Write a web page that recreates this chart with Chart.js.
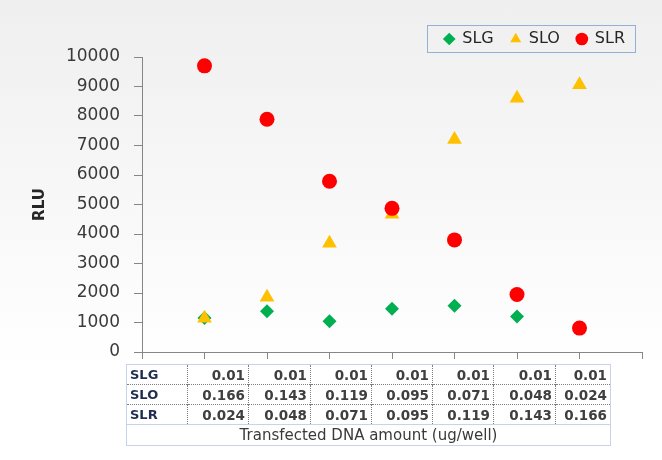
<!DOCTYPE html>
<html>
<head>
<meta charset="utf-8">
<script src="https://cdn.jsdelivr.net/npm/chart.js@4.4.1/dist/chart.umd.min.js"></script>
<style>
	body { margin: 0; }
	#wrap { position: relative; width: 662px; height: 460px; background: linear-gradient(to bottom, #efefef 0%, #f8f8f8 45%, #ffffff 80%, #ffffff 100%); }
	#tbl { position: absolute; left: 126px; top: 364px; border-collapse: collapse; font-family: 'DejaVu Sans'; border: 1px solid #c6d4e9; }
	#tbl td { height: 19px; padding: 0 3px; border-left: 1px dotted #7f7f7f; border-top: 1px dotted #7f7f7f; color: #3f3f3f; font-weight: bold; font-size: 13.5px; text-align: right; white-space: nowrap; }
	#tbl td.lab { text-align: left; color: #1f2d50; font-size: 13px; border-left: none; }
	#tbl tr:first-child td { border-top: none; }
	#tbl td.ttl { text-align: center; font-weight: normal; font-size: 15px; color: #3a3a3a; height: 20px; border-left: none; border-top: 1px solid #c6d4e9; }
</style>
</head>
<body>
<div id="wrap">
	<canvas id="chart" width="662" height="460"></canvas>
	<table id="tbl"></table>
</div>
<script>
const seriesNames = ['SLG', 'SLO', 'SLR'];
const xPos = [1, 2, 3, 4, 5, 6, 7];
const slgValues = [1150, 1380, 1045, 1470, 1570, 1200, 820];
const sloValues = [1140, 1860, 3690, 4670, 7200, 8600, 9060];
const slrValues = [9700, 7890, 5790, 4870, 3800, 1950, 810];
const slgAmount = ['0.01', '0.01', '0.01', '0.01', '0.01', '0.01', '0.01'];
const sloAmount = ['0.166', '0.143', '0.119', '0.095', '0.071', '0.048', '0.024'];
const slrAmount = ['0.024', '0.048', '0.071', '0.095', '0.119', '0.143', '0.166'];
const xTitle = 'Transfected DNA amount (ug/well)';
const yTitle = 'RLU';

function toPoints(vals) {
	return vals.map(function (v, i) { return {x: xPos[i], y: v}; });
}

// data table under the axis
const colWidths = [54, 54, 55, 54, 54, 54, 55, 48];
let html = '';
[[seriesNames[0], slgAmount], [seriesNames[1], sloAmount], [seriesNames[2], slrAmount]].forEach(function (row) {
	html += '<tr><td class="lab" style="width:' + colWidths[0] + 'px">' + row[0] + '</td>';
	row[1].forEach(function (v, i) {
		html += '<td style="width:' + colWidths[i + 1] + 'px">' + v + '</td>';
	});
	html += '</tr>';
});
html += '<tr><td class="ttl" colspan="8">' + xTitle + '</td></tr>';
document.getElementById('tbl').innerHTML = html;

const legendBox = {
	id: 'legendBox',
	afterDraw(chart) {
		const boxes = chart.legend.legendHitBoxes;
		if (!boxes || !boxes.length) return;
		const ctx = chart.ctx;
		const l = boxes[0].left - 17;
		const r = boxes[boxes.length - 1].left + boxes[boxes.length - 1].width + 10;
		const t = boxes[0].top + boxes[0].height / 2 - 14;
		ctx.save();
		ctx.strokeStyle = '#95b0d6';
		ctx.lineWidth = 1;
		ctx.strokeRect(Math.round(l) + 0.5, Math.round(t) + 0.5, Math.round(r - l), 27);
		ctx.restore();
	}
};

const axisColor = '#868686';

new Chart(document.getElementById('chart'), {
	type: 'scatter',
	data: {
		datasets: [
			{label: seriesNames[0], data: toPoints(slgValues), pointStyle: 'rectRot', pointRadius: 7, pointHoverRadius: 7, backgroundColor: '#00b050', borderColor: '#00b050', borderWidth: 0, order: 2},
			{label: seriesNames[1], data: toPoints(sloValues), pointStyle: 'triangle', pointRadius: 8.5, pointHoverRadius: 8.5, backgroundColor: '#ffc000', borderColor: '#ffc000', borderWidth: 0, order: 1},
			{label: seriesNames[2], data: toPoints(slrValues), pointStyle: 'circle', pointRadius: 7.5, pointHoverRadius: 7.5, backgroundColor: '#ff0000', borderColor: '#ff0000', borderWidth: 0, order: 0}
		]
	},
	options: {
		responsive: false,
		animation: false,
		layout: {padding: {top: 14, right: 20, left: 0, bottom: 0}},
		plugins: {
			tooltip: {enabled: false},
			legend: {
				position: 'top',
				align: 'end',
				labels: {
					usePointStyle: true,
					boxWidth: 10,
					boxHeight: 9,
					padding: 17,
					color: '#262626',
					font: {family: 'DejaVu Sans', size: 16},
					sort: function (a, b) { return a.datasetIndex - b.datasetIndex; }
				}
			}
		},
		scales: {
			x: {
				type: 'linear',
				min: 0,
				max: 8,
				afterFit: function (scale) { scale.height = 108; },
				ticks: {stepSize: 1, callback: function () { return ''; }},
				grid: {drawOnChartArea: false, drawTicks: true, tickLength: 7, color: axisColor},
				border: {color: axisColor}
			},
			y: {
				min: 0,
				max: 10000,
				afterFit: function (scale) { scale.width = 142; },
				ticks: {stepSize: 1000, padding: 14, color: '#3a3a3a', font: {family: 'DejaVu Sans', size: 17}, callback: function (v) { return String(v); }},
				grid: {drawOnChartArea: false, drawTicks: true, tickLength: 8, color: axisColor},
				border: {color: axisColor},
				title: {display: true, text: yTitle, color: '#262626', font: {family: 'DejaVu Sans', size: 15, weight: 'bold'}, padding: {top: 31, bottom: 0}}
			}
		}
	},
	plugins: [legendBox]
});
</script>
</body>
</html>
